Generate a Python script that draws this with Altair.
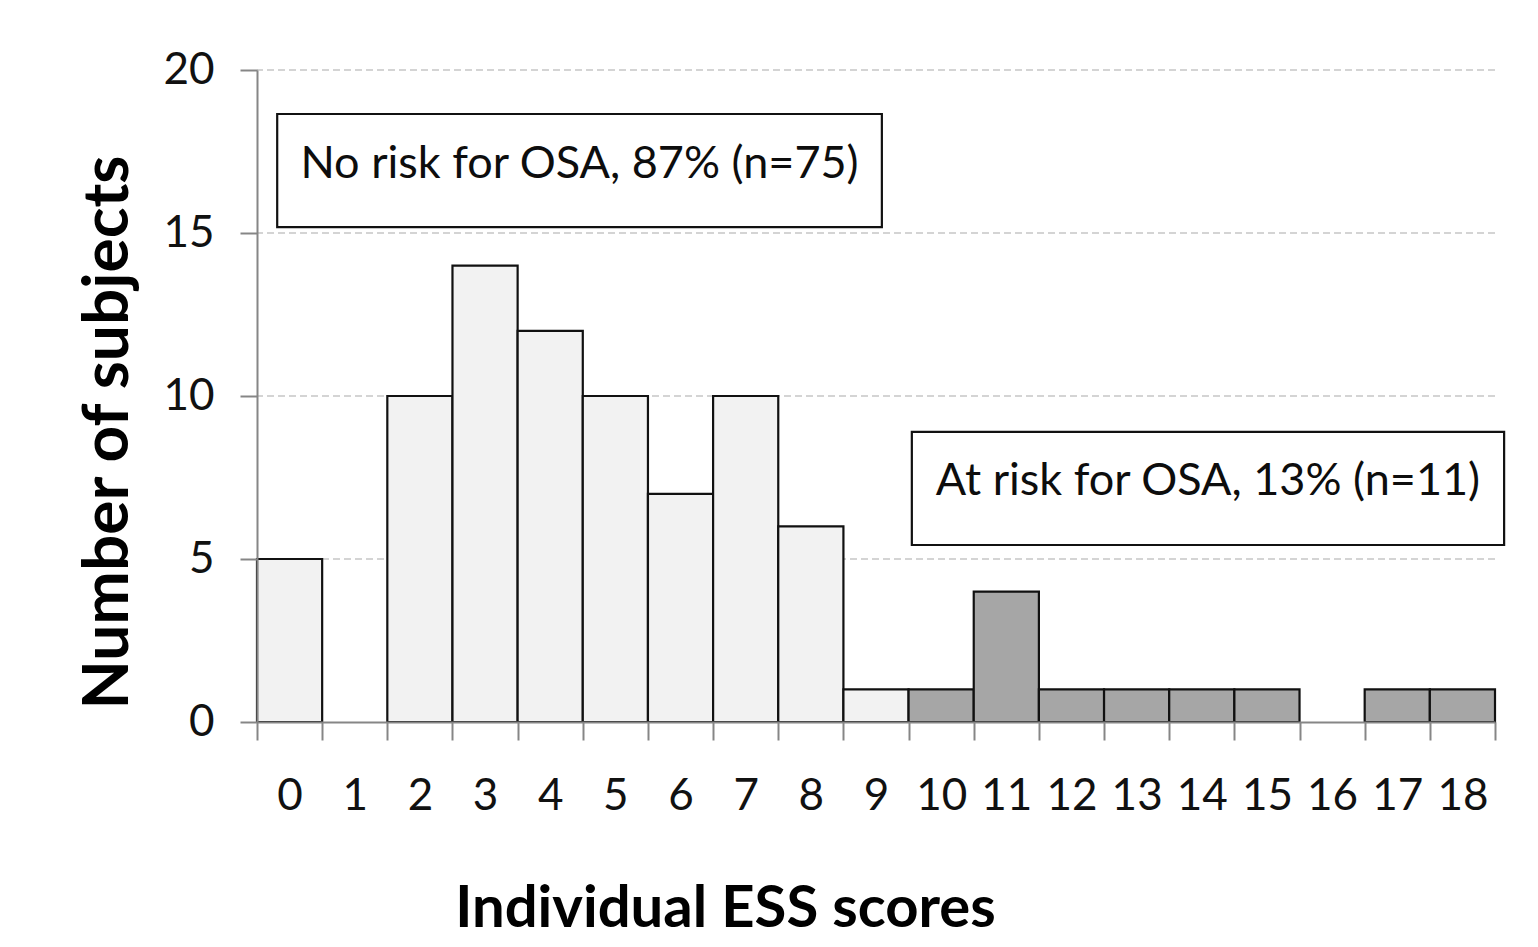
import altair as alt
import pandas as pd

# ---- data ----
scores = list(range(19))
counts = [5, 0, 10, 14, 12, 10, 7, 10, 6, 1, 1, 4, 1, 1, 1, 1, 0, 1, 1]
groups = ["No risk"] * 10 + ["At risk"] * 9
y_ticks = [0, 5, 10, 15, 20]

box_labels = ["No risk for OSA, 87% (n=75)", "At risk for OSA, 13% (n=11)"]
box_x = [0.31, 10.05]
box_x2 = [9.59, 19.14]
box_y = [18.65, 8.90]
box_y2 = [15.18, 5.43]

score_labels = [str(s) for s in scores]
df = pd.DataFrame({"score": score_labels, "count": counts, "group": groups})
boxes = pd.DataFrame({"label": box_labels, "x": box_x, "x2": box_x2, "y": box_y, "y2": box_y2})
boxes["xm"] = (boxes["x"] + boxes["x2"]) / 2
boxes["ym"] = (boxes["y"] + boxes["y2"]) / 2
grid = pd.DataFrame({"v": y_ticks[1:]})

FONT = "Lato"
AXC = "#868686"

yscale = alt.Scale(domain=[0, 20])
y_axis = alt.Axis(
    values=y_ticks,
    title="Number of subjects",
    tickSize=17,
    tickColor=AXC,
    tickWidth=2,
    domainColor=AXC,
    domainWidth=2,
    labelFont=FONT,
    labelFontSize=44,
    labelColor="#111111",
    labelPadding=26,
    titleFont=FONT,
    titleFontSize=64,
    titleFontWeight="bold",
    titleColor="#000000",
    titleX=-130,
    titleY=362,
    titleAlign="center",
    titleBaseline="alphabetic",
    grid=False,
    zindex=1,
)

grid_layer = alt.Chart(grid).mark_rule(color="#d4d4d4", strokeWidth=2, strokeDash=[7, 4]).encode(
    y=alt.Y("v:Q", scale=yscale, axis=y_axis)
)

bars = alt.Chart(df).transform_filter("datum.count > 0").mark_bar(
    stroke="#111111", strokeWidth=2.2
).encode(
    x=alt.X(
        "score:N",
        sort=score_labels,
        scale=alt.Scale(domain=score_labels, paddingInner=0, paddingOuter=0),
        axis=alt.Axis(
            title="Individual ESS scores",
            labelAngle=0,
            tickBand="extent",
            tickSize=18,
            tickColor=AXC,
            tickWidth=2,
            domainColor=AXC,
            domainWidth=2,
            labelFont=FONT,
            labelFontSize=44,
            labelColor="#111111",
            labelPadding=34,
            titleFont=FONT,
            titleFontSize=58,
            titleFontWeight="bold",
            titleColor="#000000",
            titleX=468,
            titleY=204,
            titleAlign="center",
            titleBaseline="alphabetic",
            grid=False,
            zindex=1,
        ),
    ),
    y=alt.Y("count:Q", scale=yscale, axis=y_axis),
    color=alt.Color(
        "group:N",
        scale=alt.Scale(domain=["No risk", "At risk"], range=["#f2f2f2", "#a6a6a6"]),
        legend=None,
    ),
)

bxscale = alt.Scale(domain=[0, 19])
box_rect = alt.Chart(boxes).mark_rect(fill="white", stroke="#111111", strokeWidth=2.2).encode(
    x=alt.X("x:Q", scale=bxscale, axis=None),
    x2="x2:Q",
    y=alt.Y("y:Q", scale=yscale, axis=y_axis),
    y2="y2:Q",
)
box_text = alt.Chart(boxes).mark_text(
    font=FONT, fontSize=45, color="#0d0d0d", align="center", baseline="middle", dy=-7
).encode(
    x=alt.X("xm:Q", scale=bxscale, axis=None),
    y=alt.Y("ym:Q", scale=yscale, axis=y_axis),
    text="label:N",
)

chart = alt.layer(grid_layer, bars, box_rect, box_text).resolve_scale(
    x="independent"
).properties(
    width=1238,
    height=652,
    padding={"left": 249, "top": 62, "right": 35, "bottom": 217},
    autosize=alt.AutoSizeParams(type="none"),
    background="white",
).configure_view(strokeWidth=0)

chart.save("out.html", embed_options={"renderer": "svg", "actions": False})
